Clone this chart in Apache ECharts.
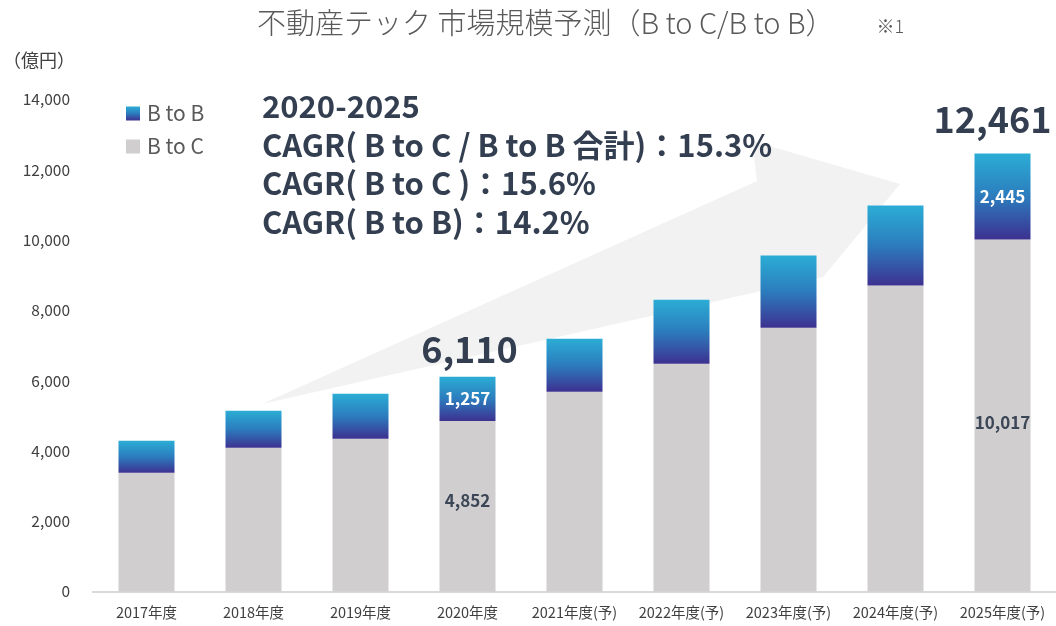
<!DOCTYPE html>
<html>
<head>
<meta charset="utf-8">
<script src="https://cdn.jsdelivr.net/npm/echarts@6/dist/echarts.min.js"></script>
<style>
  html, body { margin: 0; padding: 0; background: #ffffff; }
  #chart { width: 1056px; height: 626px; }
</style>
</head>
<body>
<div id="chart"></div>
<script>
// Fiscal-year categories and market size (億円) per segment
const categories = ['2017年度', '2018年度', '2019年度', '2020年度', '2021年度(予)', '2022年度(予)', '2023年度(予)', '2024年度(予)', '2025年度(予)'];
const btocValues = [3376, 4088, 4345, 4852, 5684, 6481, 7507, 8704, 10017];
const btobValues = [912, 1054, 1282, 1257, 1510, 1824, 2051, 2279, 2445];
// Stated totals shown above selected bars (null = no label)
const totalLabels = [null, null, null, 6110, null, null, null, null, 12461];
// Years whose segment values are printed inside the bars
const labeledIndex = [3, 8];
const yTicks = [0, 2000, 4000, 6000, 8000, 10000, 12000, 14000];
const cagrLines = ['2020-2025', 'CAGR( B to C / B to B 合計)：15.3%', 'CAGR( B to C )：15.6%', 'CAGR( B to B)：14.2%'];

const FONT = '"Noto Sans CJK JP", "Noto Sans", sans-serif';
const DARK = '#333f50';
const fmt = v => v.toLocaleString('en-US');

const chart = echarts.init(document.getElementById('chart'), null, { renderer: 'canvas' });

const blueGradient = new echarts.graphic.LinearGradient(0, 0, 0, 1, [
  { offset: 0, color: '#2badd5' },
  { offset: 0.5, color: '#2c7cbd' },
  { offset: 1, color: '#3d3190' }
]);

const btocData = btocValues.map((v, i) => ({
  value: v,
  label: {
    show: labeledIndex.includes(i),
    position: 'inside',
    offset: [0, i === 3 ? -6 : 7],
    formatter: p => fmt(p.value),
    color: '#3b4656',
    fontSize: 17,
    fontWeight: 'bold',
    fontFamily: FONT
  }
}));

const btobData = btobValues.map((v, i) => ({
  value: v,
  label: {
    show: labeledIndex.includes(i),
    position: 'inside',
    offset: [0, 0],
    formatter: p => fmt(p.value),
    color: '#ffffff',
    fontSize: 17,
    fontWeight: 'bold',
    fontFamily: FONT
  }
}));

// Invisible series stacked on top, carrying the total labels
const totalData = totalLabels.map((t, i) => ({
  value: 0,
  label: {
    show: t !== null,
    position: 'top',
    distance: i === 8 ? 16 : 9,
    offset: i === 8 ? [-10, 0] : [2, 0],
    formatter: () => (t === null ? '' : fmt(t)),
    color: DARK,
    fontSize: 36,
    fontWeight: 'bold',
    fontFamily: FONT
  }
}));

const option = {
  backgroundColor: '#ffffff',
  animation: false,
  title: {
    text: '不動産テック 市場規模予測（B to C/B to B）{n|※1}',
    left: 252,
    top: 3,
    textStyle: {
      fontFamily: FONT,
      fontSize: 29,
      fontWeight: 300,
      color: '#595959',
      rich: {
        n: { fontFamily: FONT, fontSize: 18, color: '#595959', padding: [8, 0, 0, 42] }
      }
    }
  },
  legend: {
    data: ['B to B', 'B to C'],
    orient: 'vertical',
    left: 121,
    top: 98,
    itemWidth: 14,
    itemHeight: 14,
    itemGap: 12,
    icon: 'rect',
    textStyle: { fontFamily: FONT, fontSize: 21, color: '#595959', padding: [0, 0, 0, 2] }
  },
  grid: { left: 93, right: -1, top: 99.5, bottom: 34.5, containLabel: false },
  xAxis: {
    type: 'category',
    data: categories,
    axisLine: { show: true, lineStyle: { color: '#d9d9d9', width: 2 } },
    axisTick: { show: false },
    axisLabel: { fontFamily: FONT, fontSize: 14.5, color: '#404040', margin: 14, interval: 0 }
  },
  yAxis: {
    type: 'value',
    min: 0,
    max: yTicks[yTicks.length - 1],
    interval: yTicks[1] - yTicks[0],
    name: '（億円）',
    nameLocation: 'end',
    nameGap: 30,
    nameTextStyle: { fontFamily: FONT, fontSize: 18, color: '#404040', align: 'right', padding: [0, 18, 0, 0] },
    axisLine: { show: false },
    axisTick: { show: false },
    splitLine: { show: false },
    axisLabel: { fontFamily: FONT, fontSize: 15.5, color: '#404040', margin: 23, formatter: v => fmt(v) }
  },
  graphic: [
    {
      type: 'polygon',
      z: 0,
      silent: true,
      shape: { points: [[262, 404], [757, 181], [752, 141], [900, 184], [823, 277]] },
      style: { fill: '#f2f2f2' }
    },
    {
      type: 'group',
      left: 262,
      top: 91,
      z: 10,
      children: cagrLines.map((t, i) => ({
        type: 'text',
        x: 0,
        y: i * 38.5,
        style: { text: t, fontFamily: FONT, fontSize: 31, fontWeight: 'bold', fill: DARK }
      }))
    }
  ],
  series: [
    {
      name: 'B to C',
      type: 'bar',
      stack: 'total',
      barWidth: 56,
      itemStyle: { color: '#d0cecf' },
      data: btocData
    },
    {
      name: 'B to B',
      type: 'bar',
      stack: 'total',
      barWidth: 56,
      itemStyle: { color: blueGradient },
      data: btobData
    },
    {
      name: '合計',
      type: 'bar',
      stack: 'total',
      barWidth: 56,
      itemStyle: { color: 'transparent' },
      data: totalData
    }
  ]
};

chart.setOption(option);
</script>
</body>
</html>
